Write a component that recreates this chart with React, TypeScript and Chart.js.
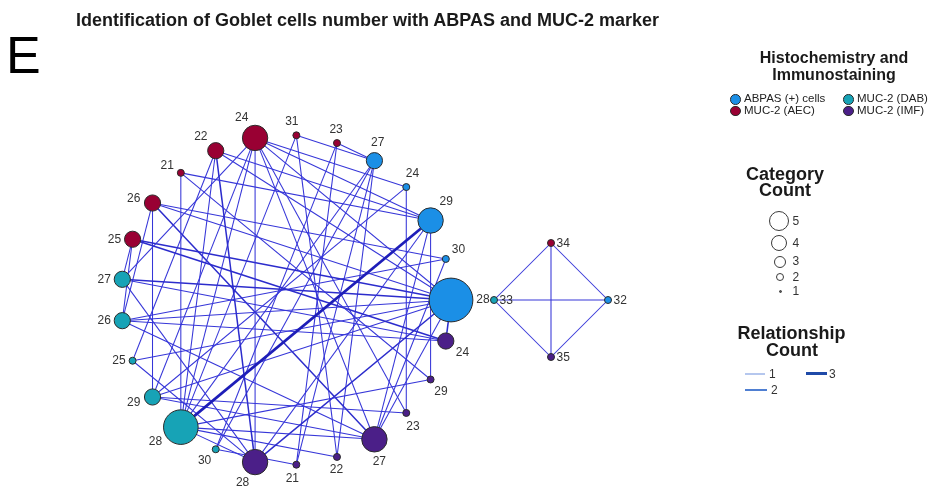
import React, { useEffect, useRef } from 'react';
import { Chart, registerables } from 'chart.js';

Chart.register(...registerables);

// ---------- data ----------
const categoryNames = ['ABPAS (+) cells', 'MUC-2 (AEC)', 'MUC-2 (DAB)', 'MUC-2 (IMF)'];
const categoryColors = ['#1b8fe6', '#990033', '#17a3b6', '#4b1f88'];

// one entry per sample (case): goblet cell number found with each method
const caseABPAS = [29, 29, 29, 28, 28, 28, 28, 30, 27, 27, 24, 28, 32];
const caseAEC = [21, 22, 24, 24, 25, 25, 26, 26, 31, 23, 24, 22, 34];
const caseDAB = [28, 28, 28, 27, 27, 26, 29, 26, 28, 30, 29, 25, 33];
const caseIMF = [29, 28, 27, 28, 24, 24, 27, 27, 22, 21, 23, 28, 35];

// order of the category values around the web
const orderABPAS = [28, 30, 29, 24, 27, 32];
const orderAEC = [23, 31, 24, 22, 21, 26, 25, 34];
const orderDAB = [27, 26, 25, 29, 28, 30, 33];
const orderIMF = [28, 21, 22, 27, 23, 29, 24, 35];

const sizeTicks = [5, 4, 3, 2, 1];
const weightTicks = [1, 2, 3];

// ---------- style / layout ----------
const W = 931;
const H = 492;
const FONT = '"Liberation Sans", Arial, Helvetica, sans-serif';
const rings = [
  { cx: 286, cy: 300, radius: 165 },
  { cx: 551, cy: 300, radius: 57 },
];
const nodeRadius = (c: number) => 3.5 + 4.6 * (c - 1);
const edgeStyle: Record<number, { color: string; width: number }> = {
  1: { color: '#3636d8', width: 1.05 },
  2: { color: '#2c2ccc', width: 1.5 },
  3: { color: '#1e1eb8', width: 2.7 },
};

type NodeT = { cat: number; value: number; count: number; comp: number; angle: number; x: number; y: number };

function buildNetwork() {
  const cols = [caseABPAS, caseAEC, caseDAB, caseIMF];
  const orders = [orderABPAS, orderAEC, orderDAB, orderIMF];
  const nodes: NodeT[] = [];
  const index = new Map<string, number>();
  orders.forEach((ord, c) =>
    ord.forEach((v) => {
      index.set(c + ':' + v, nodes.length);
      nodes.push({ cat: c, value: v, count: 0, comp: -1, angle: 0, x: 0, y: 0 });
    })
  );
  const parent = nodes.map((_, i) => i);
  const find = (i: number): number => (parent[i] === i ? i : (parent[i] = find(parent[i])));
  const edgeMap = new Map<string, { a: number; b: number; w: number }>();
  for (let k = 0; k < caseABPAS.length; k++) {
    const ids = cols.map((col, c) => index.get(c + ':' + col[k]) as number);
    ids.forEach((i) => nodes[i].count++);
    for (let i = 0; i < ids.length; i++)
      for (let j = i + 1; j < ids.length; j++) {
        const a = ids[i];
        const b = ids[j];
        parent[find(a)] = find(b);
        const key = a + '-' + b;
        const e = edgeMap.get(key);
        if (e) e.w++;
        else edgeMap.set(key, { a, b, w: 1 });
      }
  }
  const roots = Array.from(new Set(nodes.map((_, i) => find(i))));
  const comps = roots
    .map((r) => nodes.map((_, i) => i).filter((i) => find(i) === r))
    .sort((p, q) => q.length - p.length);
  comps.forEach((members, ci) => {
    const ring = rings[Math.min(ci, rings.length - 1)];
    members.forEach((i, m) => {
      const ang = (360 * m) / members.length;
      const rad = (ang * Math.PI) / 180;
      nodes[i].comp = ci;
      nodes[i].angle = ang;
      nodes[i].x = ring.cx + ring.radius * Math.cos(rad);
      nodes[i].y = ring.cy - ring.radius * Math.sin(rad);
    });
  });
  return { nodes, edges: Array.from(edgeMap.values()) };
}

function Txt(props: { x: number; base: number; size: number; bold?: boolean; align?: 'left' | 'center'; color?: string; children: React.ReactNode }) {
  const { x, base, size, bold, align = 'left', color = '#1a1a1a' } = props;
  const top = base - 0.8465 * size;
  const style: React.CSSProperties = {
    position: 'absolute',
    top,
    fontFamily: FONT,
    fontSize: size,
    lineHeight: size + 'px',
    fontWeight: bold ? 'bold' : 'normal',
    color,
    whiteSpace: 'nowrap',
  };
  if (align === 'center') {
    style.left = x - 200;
    style.width = 400;
    style.textAlign = 'center';
  } else {
    style.left = x;
  }
  return <div style={style}>{props.children}</div>;
}

export default function App() {
  const canvasRef = useRef<HTMLCanvasElement | null>(null);

  useEffect(() => {
    if (!canvasRef.current) return;
    const { nodes, edges } = buildNetwork();

    const edgeSets = edges.map((e) => ({
      type: 'scatter' as const,
      data: [
        { x: nodes[e.a].x, y: nodes[e.a].y },
        { x: nodes[e.b].x, y: nodes[e.b].y },
      ],
      showLine: true,
      borderColor: edgeStyle[Math.min(e.w, 3)].color,
      borderWidth: edgeStyle[Math.min(e.w, 3)].width,
      pointRadius: 0,
      order: 1,
    }));

    const nodeSets = categoryNames.map((name, c) => {
      const list = nodes.filter((n) => n.cat === c);
      return {
        type: 'scatter' as const,
        label: name,
        data: list.map((n) => ({ x: n.x, y: n.y })),
        pointRadius: list.map((n) => nodeRadius(n.count)),
        backgroundColor: categoryColors[c],
        borderColor: '#2b2b2b',
        borderWidth: 1,
        order: 0,
      };
    });

    const labelPlugin = {
      id: 'nodeLabels',
      afterDatasetsDraw(chart: any) {
        const ctx = chart.ctx as CanvasRenderingContext2D;
        const xs = chart.scales.x;
        const ys = chart.scales.y;
        ctx.save();
        ctx.font = '12px ' + FONT;
        ctx.fillStyle = '#333333';
        ctx.textBaseline = 'middle';
        nodes.forEach((n) => {
          const px = xs.getPixelForValue(n.x);
          const py = ys.getPixelForValue(n.y);
          const r = nodeRadius(n.count);
          const txt = String(n.value);
          if (n.comp > 0) {
            ctx.textAlign = 'left';
            ctx.fillText(txt, px + r + 2, py + 1);
            return;
          }
          const t = n.angle;
          let phi = t;
          if (t > 0 && t < 180) phi = Math.min(t + 22, 180);
          else if (t > 180) phi = Math.max(t - 20, 180);
          const pr = (phi * Math.PI) / 180;
          const c = Math.cos(pr);
          const s = Math.sin(pr);
          const d = r + 3 + 7 * Math.abs(c) + 6 * Math.abs(s);
          ctx.textAlign = 'center';
          ctx.fillText(txt, px + d * c, py - d * s);
        });
        ctx.restore();
      },
    };

    const chart = new Chart(canvasRef.current, {
      type: 'scatter',
      data: { datasets: [...edgeSets, ...nodeSets] as any },
      options: {
        animation: false,
        responsive: false,
        events: [],
        layout: { padding: 0, autoPadding: false },
        plugins: { legend: { display: false }, tooltip: { enabled: false }, title: { display: false } },
        scales: {
          x: { type: 'linear', min: 0, max: W, display: false },
          y: { type: 'linear', min: 0, max: H, reverse: true, display: false },
        },
      },
      plugins: [labelPlugin],
    });
    return () => chart.destroy();
  }, []);

  const legendItems = [
    { c: 0, x: 735, y: 99 },
    { c: 2, x: 848, y: 99 },
    { c: 1, x: 735, y: 110.5 },
    { c: 3, x: 848, y: 110.5 },
  ];
  const sizePos = [
    { cy: 220.7, cx: 778.5 },
    { cy: 242.5, cx: 779 },
    { cy: 261.3, cx: 780 },
    { cy: 277, cx: 779.7 },
    { cy: 291, cx: 780 },
  ];
  const relPos: Record<number, { x1: number; x2: number; y: number; color: string; w: number; tx: number }> = {
    1: { x1: 745, x2: 765, y: 374, color: '#b5c7ee', w: 1.6, tx: 769 },
    2: { x1: 745, x2: 767, y: 390, color: '#4f7fd2', w: 2.2, tx: 771 },
    3: { x1: 806, x2: 827, y: 373.3, color: '#1f4aa8', w: 3.2, tx: 829 },
  };

  return (
    <div style={{ position: 'absolute', left: 0, top: 0, width: W, height: H, background: '#ffffff', overflow: 'hidden' }}>
      <canvas ref={canvasRef} width={W} height={H} style={{ position: 'absolute', left: 0, top: 0 }} />
      <Txt x={6} base={73} size={52} color="#000000">E</Txt>
      <Txt x={76} base={26.7} size={18} bold>
        Identification of Goblet cells number with ABPAS and MUC-2 marker
      </Txt>
      <Txt x={834} base={64} size={16} bold align="center">Histochemistry and</Txt>
      <Txt x={834} base={81} size={16} bold align="center">Immunostaining</Txt>
      {legendItems.map((it) => (
        <React.Fragment key={it.c}>
          <div
            style={{
              position: 'absolute',
              left: it.x - 5,
              top: it.y - 5,
              width: 8.5,
              height: 8.5,
              borderRadius: '50%',
              background: categoryColors[it.c],
              border: '0.8px solid #2b2b2b',
            }}
          />
          <Txt x={it.x + 9} base={it.y + 4.2} size={11.5} color="#222">
            {categoryNames[it.c]}
          </Txt>
        </React.Fragment>
      ))}
      <Txt x={785} base={180} size={18} bold align="center">Category</Txt>
      <Txt x={785} base={196.7} size={18} bold align="center">Count</Txt>
      {sizeTicks.map((v, i) => {
        const r = [10, 7.8, 5.7, 3.7, 1.5][i];
        const p = sizePos[i];
        return (
          <React.Fragment key={v}>
            <div
              style={{
                position: 'absolute',
                left: p.cx - r,
                top: p.cy - r,
                width: 2 * r - 1.4,
                height: 2 * r - 1.4,
                borderRadius: '50%',
                background: v === 1 ? '#555' : '#fff',
                border: '0.7px solid #3a3a3a',
              }}
            />
            <Txt x={792.5} base={p.cy + 4.3} size={12} color="#333">{String(v)}</Txt>
          </React.Fragment>
        );
      })}
      <Txt x={791.5} base={339.3} size={18} bold align="center">Relationship</Txt>
      <Txt x={792} base={356.7} size={18} bold align="center">Count</Txt>
      {weightTicks.map((w) => {
        const p = relPos[w];
        return (
          <React.Fragment key={w}>
            <div
              style={{
                position: 'absolute',
                left: p.x1,
                top: p.y - p.w / 2,
                width: p.x2 - p.x1,
                height: p.w,
                background: p.color,
              }}
            />
            <Txt x={p.tx} base={p.y + 4.6} size={12} color="#333">{String(w)}</Txt>
          </React.Fragment>
        );
      })}
    </div>
  );
}
